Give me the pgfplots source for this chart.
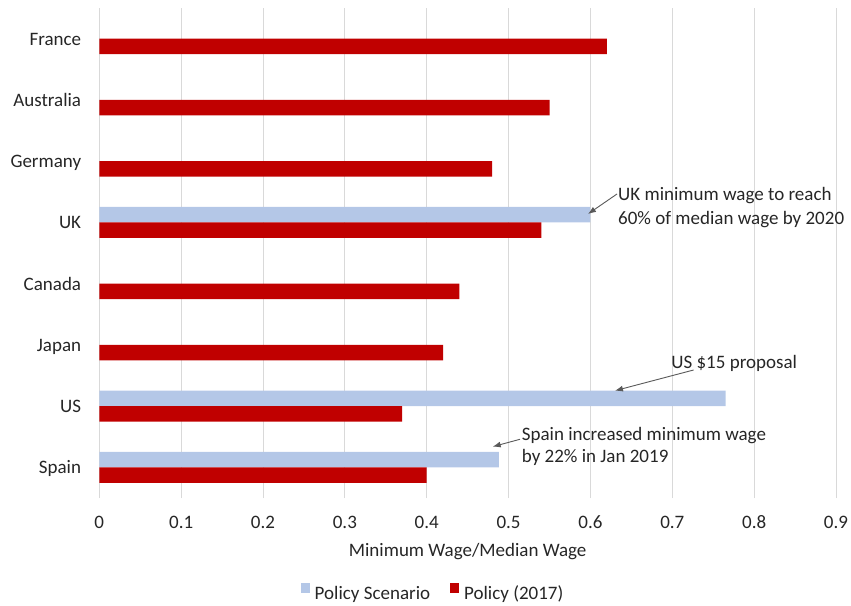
\documentclass[border=0pt]{standalone}
\usepackage{fontspec}
\setmainfont{Carlito}
\usepackage{pgfplots}
\pgfplotsset{compat=1.18}
\usetikzlibrary{arrows.meta}
\definecolor{barred}{HTML}{C00000}
\definecolor{barblue}{HTML}{B4C7E7}
\definecolor{gridgray}{HTML}{D9D9D9}
\definecolor{txt}{HTML}{262626}
\definecolor{arr}{HTML}{595959}
\begin{document}
\begin{tikzpicture}[font=\fontsize{19bp}{23bp}\selectfont, text=txt]
\useasboundingbox (-99.3bp,-108bp) rectangle (751.7bp,498bp);
\begin{axis}[
  at={(0,0)}, anchor=south west,
  scale only axis, width=736.7bp, height=490bp,
  clip=false,
  xbar, bar width=15.5bp,
  xmin=0, xmax=0.9, ymin=-0.5, ymax=7.5,
  xtick={0,0.1,0.2,0.3,0.4,0.5,0.6,0.7,0.8,0.9},
  ytick={0,1,2,3,4,5,6,7},
  yticklabels={Spain,US,Japan,Canada,UK,Germany,Australia,France},
  axis line style={draw=none},
  major tick length=0,
  xmajorgrids, grid style={gridgray, line width=1bp},
  /pgf/number format/assume math mode=true,
  /pgf/number format/fixed,
  xticklabel style={anchor=base, inner sep=0pt, yshift=-30bp},
  yticklabel style={anchor=base east, inner sep=0pt, xshift=-18bp, yshift=-6.4bp},
  xlabel={Minimum Wage/Median Wage},
  xlabel style={at={(axis description cs:0.5,0)}, anchor=base, inner sep=0pt, yshift=-58bp},
  legend columns=2,
  legend style={draw=none, fill=none, at={(axis description cs:0.453,-0.194)}, anchor=center,
    /tikz/every odd column/.append style={column sep=3bp},
    /tikz/every even column/.append style={column sep=18bp},
    nodes={inner sep=2bp}},
  legend image code/.code={\fill[#1] (0bp,1bp) rectangle (9bp,11bp);},
]
\addplot[fill=barblue, draw=none, bar shift=7.75bp] coordinates {(0.60,4) (0.765,1) (0.488,0)};
\addlegendentry{Policy Scenario}
\addplot[fill=barred, draw=none, bar shift=-7.75bp] coordinates {(0.62,7) (0.55,6) (0.48,5) (0.54,4) (0.44,3) (0.42,2) (0.37,1) (0.40,0)};
\addlegendentry{Policy (2017)}
\draw[arr, line width=0.9bp, -{Latex[length=8bp,width=6bp]}] (axis cs:0.6325,4.464) -- (axis cs:0.597,4.137);
\draw[arr, line width=0.9bp, -{Latex[length=8bp,width=6bp]}] (axis cs:0.7261,1.590) -- (axis cs:0.630,1.252);
\draw[arr, line width=0.9bp, -{Latex[length=8bp,width=6bp]}] (axis cs:0.514,0.459) -- (axis cs:0.4806,0.338);
\node[anchor=base west, inner sep=0pt] at (axis cs:0.6337,4.354) {UK minimum wage to reach};
\node[anchor=base west, inner sep=0pt] at (axis cs:0.6337,3.958) {60\% of median wage by 2020};
\node[anchor=base, inner sep=0pt] at (axis cs:0.7756,1.618) {US \$15 proposal};
\node[anchor=base west, inner sep=0pt] at (axis cs:0.516,0.436) {Spain increased minimum wage};
\node[anchor=base west, inner sep=0pt] at (axis cs:0.516,0.085) {by 22\% in Jan 2019};
\end{axis}
\end{tikzpicture}
\end{document}
